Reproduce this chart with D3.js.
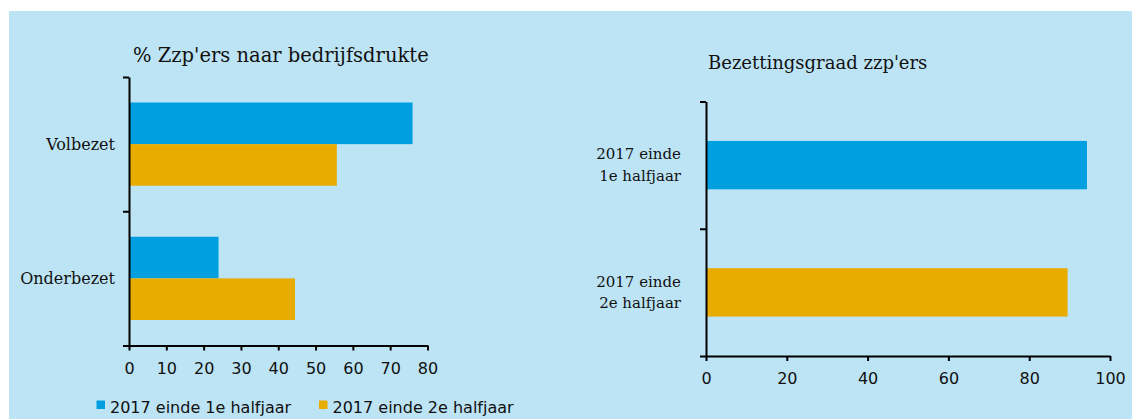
<!DOCTYPE html>
<html>
<head>
<meta charset="utf-8">
<script src="https://cdn.jsdelivr.net/npm/d3@7"></script>
<style>
  body { margin: 0; background: #fff; }
  svg { display: block; }
  .serif { font-family: "DejaVu Serif", serif; fill: #111; }
  .sans { font-family: "DejaVu Sans", sans-serif; fill: #111; }
</style>
</head>
<body>
<div id="chart"></div>
<script>
// --- Data ---
const drukteCategories = ["Volbezet", "Onderbezet"];
const seriesNames = ["2017 einde 1e halfjaar", "2017 einde 2e halfjaar"];
const firstHalf = [76, 24];
const secondHalf = [55.7, 44.5];
const drukteTicks = [0, 10, 20, 30, 40, 50, 60, 70, 80];

const bezettingCategories = [["2017 einde", "1e halfjaar"], ["2017 einde", "2e halfjaar"]];
const bezetting = [94.3, 89.5];
const bezettingTicks = [0, 20, 40, 60, 80, 100];

const colors = ["#009fe0", "#e8ab00"];

const W = 1132, H = 419;
const svg = d3.select("#chart").append("svg").attr("width", W).attr("height", H);

// light blue panel
svg.append("rect").attr("x", 9).attr("y", 11).attr("width", W - 9).attr("height", H - 11).attr("fill", "#bde4f5");

function styleAxis(g) {
  g.select(".domain").attr("stroke", "#000").attr("stroke-width", 2);
  g.selectAll(".tick line").attr("stroke", "#000").attr("stroke-width", 2);
  g.selectAll(".tick text").attr("class", "sans").attr("font-size", 16).attr("fill", "#111");
}

// --- Left chart: % Zzp'ers naar bedrijfsdrukte ---
const x1 = d3.scaleLinear().domain([0, 80]).range([129, 427.5]);
const y1 = d3.scaleBand().domain(drukteCategories).range([77, 345.5]).paddingInner(0.38).paddingOuter(0.19);
const sub1 = d3.scaleBand().domain(seriesNames).range([0, y1.bandwidth()]);

const rows1 = drukteCategories.map((c, i) => ({ cat: c, vals: [firstHalf[i], secondHalf[i]] }));

const g1 = svg.append("g");
g1.selectAll("g.row").data(rows1).join("g")
  .attr("class", "row")
  .attr("transform", d => `translate(0,${y1(d.cat)})`)
  .selectAll("rect").data(d => d.vals.map((v, j) => ({ v, s: seriesNames[j], j })))
  .join("rect")
  .attr("x", x1(0))
  .attr("y", d => sub1(d.s))
  .attr("width", d => x1(d.v) - x1(0))
  .attr("height", sub1.bandwidth())
  .attr("fill", d => colors[d.j]);

g1.selectAll("text.cat").data(drukteCategories).join("text")
  .attr("class", "serif")
  .attr("x", 115)
  .attr("y", d => y1(d) + y1.bandwidth() / 2)
  .attr("text-anchor", "end")
  .attr("dominant-baseline", "central")
  .attr("font-size", 16)
  .text(d => d);

const yb1 = d3.scaleLinear().domain([0, drukteCategories.length]).range(y1.range());
g1.append("g").attr("transform", `translate(${x1(0)},0)`)
  .call(d3.axisLeft(yb1).ticks(drukteCategories.length).tickSize(6).tickSizeOuter(0).tickFormat(""))
  .call(styleAxis);

g1.append("g").attr("transform", `translate(0,${y1.range()[1]})`)
  .call(d3.axisBottom(x1).tickValues(drukteTicks).tickSize(5).tickSizeOuter(0).tickPadding(12))
  .call(styleAxis);

g1.append("text").attr("class", "serif")
  .attr("x", 133).attr("y", 62).attr("font-size", 19.5)
  .text("% Zzp'ers naar bedrijfsdrukte");

// legend
const legendX = [96.5, 319];
const leg = svg.append("g").selectAll("g").data(seriesNames).join("g")
  .attr("transform", (d, i) => `translate(${legendX[i]},0)`);
leg.append("rect").attr("x", 0).attr("y", 400.5).attr("width", 8.5).attr("height", 8.5)
  .attr("fill", (d, i) => colors[i]);
leg.append("text").attr("class", "sans").attr("x", 13.5).attr("y", 413).attr("font-size", 16)
  .text(d => d);

// --- Right chart: Bezettingsgraad zzp'ers ---
const x2 = d3.scaleLinear().domain([0, 100]).range([706, 1110]);
const y2 = d3.scaleBand().domain(d3.range(bezetting.length)).range([101.5, 356]).paddingInner(0.62).paddingOuter(0.31);

const g2 = svg.append("g");
g2.selectAll("rect").data(bezetting).join("rect")
  .attr("x", x2(0))
  .attr("y", (d, i) => y2(i))
  .attr("width", d => x2(d) - x2(0))
  .attr("height", y2.bandwidth())
  .attr("fill", (d, i) => colors[i]);

const lab2 = g2.selectAll("text.cat").data(bezettingCategories).join("text")
  .attr("class", "serif")
  .attr("text-anchor", "end")
  .attr("font-size", 15);
lab2.selectAll("tspan").data((d, i) => d.map((line, k) => ({ line, k, i, n: d.length })))
  .join("tspan")
  .attr("x", 681)
  .attr("y", d => y2(d.i) + y2.bandwidth() / 2 + (d.k - (d.n - 1) / 2) * 21.5)
  .attr("dominant-baseline", "central")
  .text(d => d.line);

const yb2 = d3.scaleLinear().domain([0, bezetting.length]).range(y2.range());
g2.append("g").attr("transform", `translate(${x2(0)},0)`)
  .call(d3.axisLeft(yb2).ticks(bezetting.length).tickSize(6).tickSizeOuter(0).tickFormat(""))
  .call(styleAxis);

g2.append("g").attr("transform", `translate(0,${y2.range()[1]})`)
  .call(d3.axisBottom(x2).tickValues(bezettingTicks).tickSize(5).tickSizeOuter(0).tickPadding(12))
  .call(styleAxis);

g2.append("text").attr("class", "serif")
  .attr("x", 708).attr("y", 69).attr("font-size", 18)
  .text("Bezettingsgraad zzp'ers");
</script>
</body>
</html>
